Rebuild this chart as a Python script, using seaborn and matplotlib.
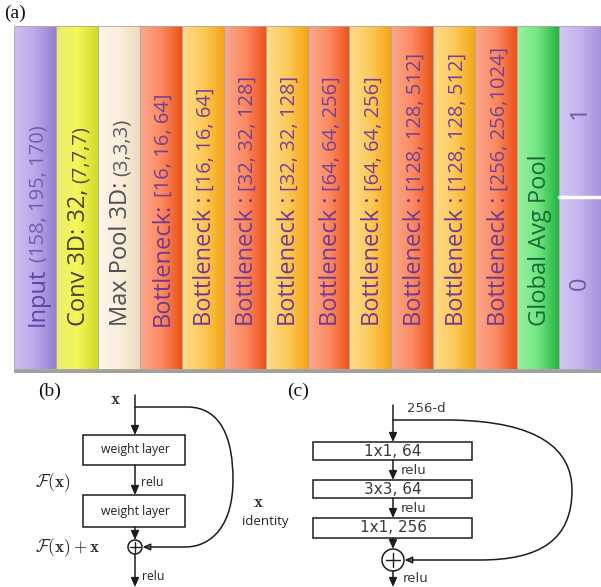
import numpy as np
import pandas as pd
import matplotlib.pyplot as plt
import seaborn as sns
from matplotlib.colors import LinearSegmentedColormap
from matplotlib.patches import Rectangle, Circle, FancyArrowPatch
from matplotlib.path import Path

sns.set_theme(style="white")
plt.rcParams["font.family"] = ["Open Sans", "DejaVu Sans"]
plt.rcParams["mathtext.fontset"] = "cm"

# (a) layer stack
layer_names = ["Input", "Conv 3D: 32,", "Max Pool 3D:",
               "Bottleneck:", "Bottleneck :", "Bottleneck :", "Bottleneck :",
               "Bottleneck :", "Bottleneck :", "Bottleneck :", "Bottleneck :",
               "Bottleneck :", "Global Avg Pool"]
layer_params = ["(158, 195, 170)", "(7,7,7)", "(3,3,3)",
                "[16, 16, 64]", "[16, 16, 64]", "[32, 32, 128]", "[32, 32, 128]",
                "[64, 64, 256]", "[64, 64, 256]", "[128, 128, 512]", "[128, 128, 512]",
                "[256, 256,1024]", ""]
layer_kind = ["input", "conv", "pool", "red", "yellow", "red", "yellow",
              "red", "yellow", "red", "yellow", "red", "gap"]
output_classes = ["1", "0"]

# (b) residual block / (c) bottleneck block
block_b_layers = ["weight layer", "weight layer"]
block_c_layers = ["1x1, 64", "3x3, 64", "1x1, 256"]

gradients = {
    "input":  ["#cdbff2", "#bba7ea", "#957ecf"],
    "conv":   ["#e6ee70", "#f6f658", "#d2da2c"],
    "pool":   ["#fdf5ea", "#fbeedc", "#efdcc0"],
    "red":    ["#fca88e", "#fb8a62", "#ec5219"],
    "yellow": ["#fddc90", "#fdca5a", "#f4a616"],
    "gap":    ["#9af2a2", "#72e680", "#20b540"],
    "output": ["#d4c8f4", "#c3b3ec", "#a691d9"],
}
name_colors = {"input": "#5a4aa0", "conv": "#44442a", "pool": "#505050",
               "red": "#713a92", "yellow": "#713a92", "gap": "#1b6a39",
               "output": "#6c5c9c"}
param_colors = {"input": "#6f60ae", "conv": "#505034", "pool": "#5a5a5a",
                "red": "#764095", "yellow": "#764095", "gap": "#1b6a39",
                "output": "#6c5c9c"}

W, H = 601, 587
fig = plt.figure(figsize=(W / 100, H / 100), dpi=100)
fig.patch.set_facecolor("white")

a_left, a_top, a_bottom = 14, 26, 373
ax_a = fig.add_axes([a_left / W, 1 - a_bottom / H, (W - a_left) / W,
                     (a_bottom - a_top) / H])

df = pd.DataFrame({"slot": [str(i) for i in range(len(layer_names))],
                   "height": [1.0] * len(layer_names)})
sns.barplot(data=df, x="slot", y="height", hue="slot",
            palette=[gradients[k][1] for k in layer_kind], legend=False,
            width=1.0, ax=ax_a, edgecolor="#b4a898", linewidth=0.6,
            saturation=1)

n = len(layer_names)
for k, cls in enumerate(output_classes):
    ax_a.bar(n, 0.5, bottom=1 - 0.5 * (k + 1), width=1.0,
             color=gradients["output"][1], edgecolor="#b0a8c0", linewidth=0.6)

bars = list(ax_a.patches)
kinds = layer_kind + ["output"] * len(output_classes)
for patch, kind in zip(bars, kinds):
    x0, y0 = patch.get_x(), patch.get_y()
    cmap = LinearSegmentedColormap.from_list(kind, gradients[kind])
    grad = cmap(np.linspace(0, 1, 120))[None, :, :3]
    im = ax_a.imshow(grad, extent=[x0, x0 + patch.get_width(), y0,
                                   y0 + patch.get_height()],
                     aspect="auto", origin="lower", zorder=0.5,
                     interpolation="bicubic")
    im.set_clip_path(patch)
    patch.set_facecolor("none")

ax_a.set_xlim(-0.5, n + 0.5)
ax_a.set_ylim(-0.012, 1)
ax_a.axhline(-0.006, color="#a0a0a0", lw=3, zorder=0.2)
ax_a.plot([n - 0.5, n + 0.5], [0.5, 0.5], color="white", lw=2.5, zorder=2)
ax_a.axis("off")

text_base = 0.125
for i, (name, params, kind) in enumerate(zip(layer_names, layer_params, layer_kind)):
    t = ax_a.text(i + 0.2, text_base, name, rotation=90, rotation_mode="anchor",
                  ha="left", va="baseline", fontsize=17,
                  color=name_colors[kind], zorder=3)
    if params:
        ax_a.annotate(params, xy=(i + 0.2, 1.0), xycoords=("data", t),
                      xytext=(0, 4), textcoords="offset points",
                      rotation=90, rotation_mode="anchor", ha="left",
                      va="baseline", fontsize=14.5, color=param_colors[kind],
                      zorder=3)
for k, cls in enumerate(output_classes):
    ax_a.text(n, 1 - 0.5 * k - 0.25, cls, rotation=90, ha="center",
              va="center", fontsize=17, color=name_colors["output"], zorder=3)

# overlay in pixel coordinates for (b) and (c)
ax = fig.add_axes([0, 0, 1, 1])
ax.set_xlim(0, W)
ax.set_ylim(H, 0)
ax.axis("off")
ax.patch.set_visible(False)

line_c = "#1c1c1c"
serif = ["Liberation Serif", "DejaVu Serif"]
for lab, px, py in [("(a)", 15, 13), ("(b)", 50, 391), ("(c)", 298, 391)]:
    ax.text(px, py, lab, ha="center", va="center", fontsize=14, family=serif,
            color="#111111")


def arrow(p0, p1):
    ax.annotate("", xy=p1, xytext=p0,
                arrowprops=dict(arrowstyle="-|>,head_length=0.45,head_width=0.2",
                                color=line_c, lw=1.1, shrinkA=0, shrinkB=0))


def adder(cx, cy, r):
    ax.add_patch(Circle((cx, cy), r, fill=False, ec=line_c, lw=1.1))
    ax.plot([cx - r * 0.65, cx + r * 0.65], [cy, cy], color=line_c, lw=1.0)
    ax.plot([cx, cx], [cy - r * 0.65, cy + r * 0.65], color=line_c, lw=1.0)


def skip(verts, codes):
    ax.add_patch(FancyArrowPatch(path=Path(verts, codes),
                                 arrowstyle="-|>,head_length=0.45,head_width=0.2",
                                 mutation_scale=10, color=line_c, lw=1.1,
                                 fill=False))


# (b)
bx, bl, br = 135, 83, 185
b_rows = [(435, 465), (495, 527)]
arrow((bx, 395), (bx, b_rows[0][0]))
for (y0, y1), lab in zip(b_rows, block_b_layers):
    ax.add_patch(Rectangle((bl, y0), br - bl, y1 - y0, fill=False, ec=line_c, lw=1.1))
    ax.text(bx, (y0 + y1) / 2, lab, ha="center", va="center", fontsize=8.8,
            color="#222222")
arrow((bx, b_rows[0][1]), (bx, b_rows[1][0]))
ax.text(bx + 6, 482, "relu", ha="left", va="center", fontsize=8.8, color="#222222")
arrow((bx, b_rows[1][1]), (bx, 540))
adder(bx, 547, 7)
arrow((bx, 554), (bx, 587))
ax.text(bx + 7, 576, "relu", ha="left", va="center", fontsize=8.8, color="#222222")
ax.text(115, 400, r"$\mathbf{x}$", ha="center", va="center", fontsize=12.5)
ax.text(35, 483, r"$\mathcal{F}(\mathbf{x})$", ha="left", va="center", fontsize=12.5)
ax.text(35, 548, r"$\mathcal{F}(\mathbf{x}) + \mathbf{x}$", ha="left",
        va="center", fontsize=12.5)
ax.text(258, 503, r"$\mathbf{x}$", ha="center", va="center", fontsize=12.5)
ax.text(265, 522, "identity", ha="center", va="center", fontsize=9.5, color="#222222")
skip([(bx, 407), (187, 407), (222, 407), (233, 440), (233, 480),
      (233, 525), (212, 547), (185, 547), (bx + 7.5, 547)],
     [Path.MOVETO, Path.LINETO, Path.CURVE4, Path.CURVE4, Path.CURVE4,
      Path.CURVE4, Path.CURVE4, Path.CURVE4, Path.LINETO])

# (c)
cx, cl, cr = 393, 313, 472
c_rows = [(442, 460), (480, 498), (518, 538)]
cfont = dict(family=["DejaVu Sans"], color="#3a3a3a")
ax.text(407, 408, "256-d", ha="left", va="center", fontsize=9.5, **cfont)
arrow((cx, 405), (cx, c_rows[0][0]))
for (y0, y1), lab in zip(c_rows, block_c_layers):
    ax.add_patch(Rectangle((cl, y0), cr - cl, y1 - y0, fill=False, ec=line_c, lw=1.1))
    ax.text(cx, (y0 + y1) / 2, lab, ha="center", va="center", fontsize=11, **cfont)
for (ya, yb) in zip(c_rows[:-1], c_rows[1:]):
    arrow((cx, ya[1]), (cx, yb[0]))
    ax.text(cx + 8, (ya[1] + yb[0]) / 2, "relu", ha="left", va="center",
            fontsize=9.5, **cfont)
arrow((cx, c_rows[-1][1]), (cx, 549))
adder(cx, 560, 11)
arrow((cx, 571), (cx, 587))
ax.text(cx + 10, 578, "relu", ha="left", va="center", fontsize=9.5, **cfont)
skip([(cx, 420), (450, 420), (540, 421), (572, 450), (572, 490),
      (572, 540), (540, 560), (480, 560), (cx + 11.5, 560)],
     [Path.MOVETO, Path.LINETO, Path.CURVE4, Path.CURVE4, Path.CURVE4,
      Path.CURVE4, Path.CURVE4, Path.CURVE4, Path.LINETO])

fig.savefig("out.png", dpi=100, facecolor="white")
